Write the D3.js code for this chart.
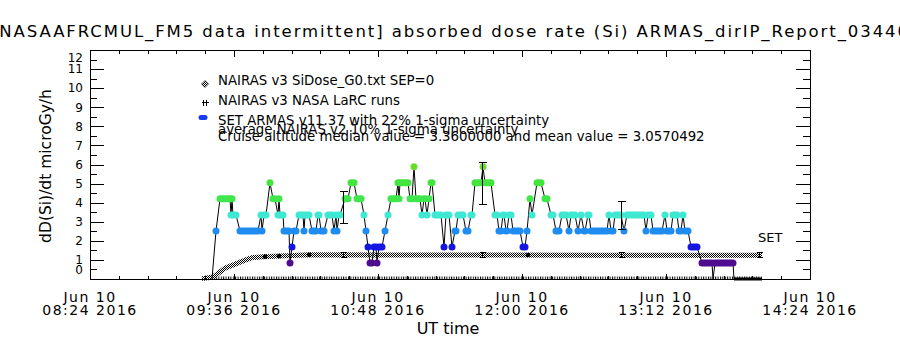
<!DOCTYPE html>
<html>
<head>
<meta charset="utf-8">
<script src="https://cdnjs.cloudflare.com/ajax/libs/d3/7.8.5/d3.min.js"></script>
<style>
body { margin: 0; background: #fff; }
text { font-family: "DejaVu Sans", sans-serif; fill: #000; }
</style>
</head>
<body>
<div id="chart"></div>
<script>
// plot frame
var w = 900, h = 350;
var x_left = 90, x_right = 810, y_top = 50, y_bottom = 279;

// x axis: UT minutes of day, Jun 10 2016
var xMajor = [504, 576, 648, 720, 792, 864];
var xLabelDay = ["Jun 10", "Jun 10", "Jun 10", "Jun 10", "Jun 10", "Jun 10"];
var xLabelTime = ["08:24 2016", "09:36 2016", "10:48 2016", "12:00 2016", "13:12 2016", "14:24 2016"];
var yMajor = [0, 1, 2, 3, 4, 5, 6, 7, 8, 9, 10, 11, 12];

// ARMAS dose rate levels (microGy/h) and their colours
var armasLevels = [0, 0.84, 1.68, 2.52, 3.36, 4.20, 5.04, 5.88];
var armasColors = ["#000000", "#4e0c8f", "#1616e2", "#1f8cf2", "#3ee8d2", "#3fe64c", "#44e43e", "#6cdc2c"];

// ARMAS runs: start / end UT minute, level index
var armasStart = [565, 567, 569, 574.5, 575, 575.5, 579, 589.5, 590, 591, 594, 595.5, 598, 598.5, 599, 601, 604, 605, 606, 608.5,
  611, 611.5, 615, 618, 619.5, 623, 626, 627, 627.5, 628.5, 631.5, 634.5, 637.5, 641, 642, 643, 644, 646, 647.5, 648.5,
  651.5, 653, 654.5, 658, 658.5, 659, 664, 666, 667, 670, 671, 672.5, 673.5, 674.5, 676.5, 681, 682, 685, 686.5, 688,
  692, 694.5, 696.5, 700.5, 701.5, 706.5, 708.5, 710.5, 712, 713.5, 715.5, 720.5, 722.5, 724, 725, 727.5, 731.5, 734.5, 737, 740,
  743.5, 744.5, 748, 749.5, 751, 753, 754.5, 763.5, 764.5, 766.5, 771, 772.5, 782, 783, 785.5, 791.5, 792.5, 795.5, 798.5, 800.5,
  801.5, 804.5, 810, 815.5, 816.5, 826];
var armasEnd = [565, 567, 574, 574.5, 575, 577, 588, 589.5, 590, 592, 594, 596.5, 598, 598.5, 600.5, 603.5, 604, 605, 607, 610.5,
  611, 613.5, 617, 618.5, 621, 625, 626, 627, 627.5, 629, 633, 636, 639.5, 641, 642, 643, 645, 647, 647.5, 650,
  651.5, 653, 657, 658, 658.5, 663, 665, 666, 669, 670, 671.5, 672.5, 673.5, 675, 679.5, 681, 683.5, 685, 687, 690.5,
  693, 695, 699.5, 700.5, 704.5, 707.5, 709.5, 711, 712.5, 714.5, 719, 721.5, 722.5, 724, 725, 729.5, 732.5, 735.5, 738.5, 742,
  743.5, 746.5, 748, 749.5, 751.5, 753.5, 762.5, 763.5, 765.5, 769.5, 771, 781, 782, 784.5, 790, 791.5, 794.5, 797.5, 799.5, 800.5,
  803, 807.5, 815, 815.5, 825.5, 840];
var armasLevel = [0, 3, 5, 4, 5, 4, 3, 4, 3, 4, 6, 5, 4, 5, 4, 3, 1, 2, 3, 4,
  3, 4, 3, 4, 3, 4, 3, 4, 3, 4, 5, 6, 5, 4, 3, 2, 1, 2, 1, 2,
  3, 4, 5, 6, 5, 6, 5, 7, 5, 4, 5, 4, 5, 6, 4, 2, 4, 2, 3, 4,
  3, 4, 6, 7, 6, 4, 3, 4, 3, 4, 3, 2, 3, 5, 4, 6, 5, 4, 3, 4,
  3, 4, 3, 4, 3, 4, 3, 4, 3, 4, 3, 4, 3, 4, 3, 4, 3, 4, 3, 4,
  3, 2, 1, 0, 1, 0];

// ARMAS 22% 1-sigma error bars
var armasErrTime = [630.5, 700, 769.5];
var armasErrLow = [2.93, 3.88, 2.60];
var armasErrHigh = [4.56, 6.12, 4.05];

// NAIRAS v3 SiDose_G0 curve
var sidoseTime = [560, 565.5, 571.5, 577.5, 582.5, 585, 590.5, 599, 614, 659, 709, 759, 809, 840];
var sidoseValue = [0.02, 0.10, 0.56, 0.82, 1.03, 1.12, 1.17, 1.20, 1.27, 1.26, 1.26, 1.25, 1.25, 1.25];
var sidoseErrTime = [630.5, 700, 769.5, 838.5];
var sidoseErrLow = [1.14, 1.13, 1.13, 1.13];
var sidoseErrHigh = [1.40, 1.39, 1.38, 1.38];

// NAIRAS v3 NASA LaRC runs
var larcTime = [591.5, 598.5, 613.5, 723];
var larcValue = [1.17, 1.20, 1.27, 1.26];
var larcZeroSpan = [566.5, 840];

var legendLabels = ["NAIRAS v3 SiDose_G0.txt SEP=0", "NAIRAS v3 NASA LaRC runs",
  "SET ARMAS v11.37 with 22% 1-sigma uncertainty"];
var noteLabels = ["average NAIRAS v2 10% 1-sigma uncertainty",
  "Cruise altitude median value = 3.3600000 and mean value = 3.0570492"];

var base = Date.UTC(2016, 5, 10);
function ut(m) { return new Date(base + m * 60000); }

var xScale = d3.scaleUtc().domain([ut(504), ut(864)]).range([x_left, x_right]);
var yScale = d3.scaleLinear().domain([0, 12]).range([y_bottom, y_top]);

var svg = d3.select("#chart").append("svg")
  .attr("width", w).attr("height", h)
  .style("display", "block");

var defs = svg.append("defs");
var dither = defs.append("pattern").attr("id", "dither")
  .attr("patternUnits", "userSpaceOnUse").attr("width", 2).attr("height", 2);
dither.append("rect").attr("width", 2).attr("height", 2).attr("fill", "#fff");
dither.append("rect").attr("width", 1).attr("height", 1).attr("fill", "#000");
dither.append("rect").attr("x", 1).attr("y", 1).attr("width", 1).attr("height", 1).attr("fill", "#000");

var stripes = defs.append("pattern").attr("id", "stripes")
  .attr("patternUnits", "userSpaceOnUse").attr("width", 2.4).attr("height", 4);
stripes.append("rect").attr("width", 1).attr("height", 4).attr("fill", "#000");

// title
svg.append("text")
  .attr("x", -9).attr("y", 37)
  .attr("font-size", 16.5)
  .attr("textLength", 917)
  .attr("lengthAdjust", "spacing")
  .text("[NASAAFRCMUL_FM5 data intermittent] absorbed dose rate (Si) ARMAS_dirIP_Report_03440");

var plot = svg.append("g");

// dense zero-level marks along the bottom
plot.append("rect")
  .attr("x", xScale(ut(larcZeroSpan[0])))
  .attr("y", y_bottom - 2.5)
  .attr("width", xScale(ut(larcZeroSpan[1])) - xScale(ut(larcZeroSpan[0])))
  .attr("height", 2.5)
  .attr("fill", "url(#stripes)");

// SiDose band
var sidoseLine = d3.line()
  .x(function(d, i) { return xScale(ut(sidoseTime[i])); })
  .y(function(d, i) { return yScale(sidoseValue[i]); });
plot.append("path")
  .datum(sidoseTime)
  .attr("d", sidoseLine)
  .attr("fill", "none")
  .attr("stroke", "url(#dither)")
  .attr("stroke-width", 5);

plot.selectAll("circle.larc")
  .data(larcTime)
  .enter().append("circle")
  .attr("class", "larc")
  .attr("cx", function(d) { return xScale(ut(d)); })
  .attr("cy", function(d, i) { return yScale(larcValue[i]); })
  .attr("r", 2.3)
  .attr("fill", "#000");

function errorBars(g, times, lows, highs, cap) {
  times.forEach(function(t, i) {
    var x = Math.round(xScale(ut(t))) + 0.5;
    var y0 = yScale(lows[i]), y1 = yScale(highs[i]);
    g.append("path")
      .attr("d", "M" + x + "," + y0 + "V" + y1 +
        "M" + (x - cap) + "," + y0 + "H" + (x + cap) +
        "M" + (x - cap) + "," + y1 + "H" + (x + cap))
      .attr("stroke", "#000").attr("stroke-width", 1).attr("fill", "none")
      .attr("shape-rendering", "crispEdges");
  });
}
errorBars(plot, sidoseErrTime, sidoseErrLow, sidoseErrHigh, 3);

// ARMAS connecting line
var armasPts = [];
armasStart.forEach(function(s, i) {
  armasPts.push([s, armasLevels[armasLevel[i]]]);
  armasPts.push([armasEnd[i], armasLevels[armasLevel[i]]]);
});
plot.append("path")
  .datum(armasPts)
  .attr("d", d3.line()
    .x(function(d) { return xScale(ut(d[0])); })
    .y(function(d) { return yScale(d[1]); }))
  .attr("fill", "none")
  .attr("stroke", "#000")
  .attr("stroke-width", 1);

// ARMAS points as coloured runs
plot.selectAll("line.armas")
  .data(armasStart)
  .enter().append("line")
  .attr("class", "armas")
  .attr("x1", function(d) { return xScale(ut(d)); })
  .attr("x2", function(d, i) { return xScale(ut(armasEnd[i])); })
  .attr("y1", function(d, i) { return yScale(armasLevels[armasLevel[i]]); })
  .attr("y2", function(d, i) { return yScale(armasLevels[armasLevel[i]]); })
  .attr("stroke", function(d, i) { return armasColors[armasLevel[i]]; })
  .attr("stroke-width", function(d, i) { return armasLevel[i] === 0 ? 3 : 7; })
  .attr("stroke-linecap", function(d, i) { return armasLevel[i] === 0 ? "butt" : "round"; });

errorBars(plot, armasErrTime, armasErrLow, armasErrHigh, 4);

// axes (ticks inward)
var minorX = d3.range(504, 864.01, 14.4).map(ut);
var majorX = xMajor.map(ut);
var minorY = d3.range(0, 12.01, 0.5);

function cleanAxis(g) {
  g.select(".domain").remove();
  g.selectAll("line").attr("shape-rendering", "crispEdges");
}
svg.append("g").attr("transform", "translate(0," + y_top + ")")
  .call(d3.axisBottom(xScale).tickValues(minorX).tickSize(4).tickFormat("")).call(cleanAxis);
svg.append("g").attr("transform", "translate(0," + y_top + ")")
  .call(d3.axisBottom(xScale).tickValues(majorX).tickSize(7).tickFormat("")).call(cleanAxis);
svg.append("g").attr("transform", "translate(0," + y_bottom + ")")
  .call(d3.axisTop(xScale).tickValues(minorX).tickSize(3).tickFormat("")).call(cleanAxis);
svg.append("g").attr("transform", "translate(0," + y_bottom + ")")
  .call(d3.axisTop(xScale).tickValues(majorX).tickSize(5).tickFormat("")).call(cleanAxis);
svg.append("g").attr("transform", "translate(" + x_left + ",0)")
  .call(d3.axisRight(yScale).tickValues(minorY).tickSize(7).tickFormat("")).call(cleanAxis);
svg.append("g").attr("transform", "translate(" + x_left + ",0)")
  .call(d3.axisRight(yScale).tickValues(yMajor).tickSize(14).tickFormat("")).call(cleanAxis);
svg.append("g").attr("transform", "translate(" + x_right + ",0)")
  .call(d3.axisLeft(yScale).tickValues(minorY).tickSize(7).tickFormat("")).call(cleanAxis);
svg.append("g").attr("transform", "translate(" + x_right + ",0)")
  .call(d3.axisLeft(yScale).tickValues(yMajor).tickSize(14).tickFormat("")).call(cleanAxis);

svg.append("rect")
  .attr("x", x_left + 0.5).attr("y", y_top + 0.5)
  .attr("width", x_right - x_left).attr("height", y_bottom - y_top)
  .attr("fill", "none").attr("stroke", "#000").attr("stroke-width", 1)
  .attr("shape-rendering", "crispEdges");

// tick labels (end labels pulled inside the frame)
svg.selectAll("text.ylab")
  .data(yMajor)
  .enter().append("text")
  .attr("class", "ylab")
  .attr("x", 83)
  .attr("y", function(d) { return Math.min(269.5, Math.max(57.5, yScale(d))) + 4.3; })
  .attr("text-anchor", "end")
  .attr("font-size", 12)
  .text(function(d) { return d; });

var xl = svg.selectAll("g.xlab")
  .data(majorX)
  .enter().append("g")
  .attr("class", "xlab")
  .attr("transform", function(d) { return "translate(" + xScale(d) + ",0)"; });
xl.append("text").attr("y", 302).attr("text-anchor", "middle")
  .attr("font-size", 14).attr("letter-spacing", 1.5)
  .text(function(d, i) { return xLabelDay[i]; });
xl.append("text").attr("y", 315).attr("text-anchor", "middle")
  .attr("font-size", 14).attr("letter-spacing", 1.5)
  .text(function(d, i) { return xLabelTime[i]; });

svg.append("text")
  .attr("x", 448).attr("y", 334)
  .attr("text-anchor", "middle")
  .attr("font-size", 16)
  .text("UT time");

svg.append("text")
  .attr("transform", "translate(51,166) rotate(-90)")
  .attr("text-anchor", "middle")
  .attr("font-size", 15.5)
  .text("dD(Si)/dt microGy/h");

// legend
var lg = svg.append("g");
lg.append("path").attr("d", "M205,80.5L208.5,84L205,87.5L201.5,84Z")
  .attr("fill", "url(#dither)").attr("stroke", "#000").attr("stroke-width", 0.6);
lg.append("path").attr("d", "M201.5,102.5H208.5M203.5,99.5V106M206.5,99.5V106")
  .attr("stroke", "#000").attr("stroke-width", 1).attr("shape-rendering", "crispEdges");
lg.append("line").attr("x1", 201).attr("x2", 205).attr("y1", 117.5).attr("y2", 117.5)
  .attr("stroke", "#1a3cf0").attr("stroke-width", 5).attr("stroke-linecap", "round");
var legendY = [85, 105, 125];
legendLabels.forEach(function(t, i) {
  lg.append("text").attr("x", 218).attr("y", legendY[i]).attr("font-size", 13.3).text(t);
});
var noteY = [134, 141];
noteLabels.forEach(function(t, i) {
  lg.append("text").attr("x", 218).attr("y", noteY[i]).attr("font-size", 13.3).text(t);
});

svg.append("text").attr("x", 758).attr("y", 242).attr("font-size", 13).text("SET");
</script>
</body>
</html>
